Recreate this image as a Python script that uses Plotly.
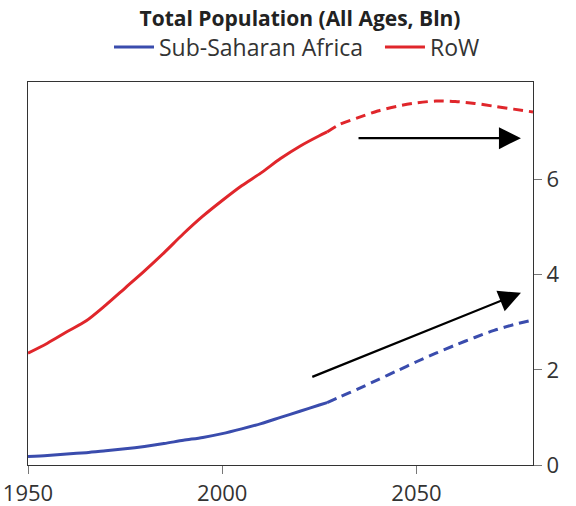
import plotly.graph_objects as go

# ---- data (billions) ----
years_hist = [1950, 1955, 1960, 1965, 1970, 1975, 1980, 1985, 1990, 1995,
              2000, 2005, 2010, 2015, 2020, 2025, 2027]
years_proj = [2027, 2030, 2035, 2040, 2045, 2050, 2055, 2060, 2065, 2070, 2075, 2080]

ssa_hist = [0.18, 0.20, 0.23, 0.26, 0.30, 0.34, 0.39, 0.45, 0.52, 0.58,
            0.66, 0.76, 0.87, 1.00, 1.13, 1.26, 1.31]
ssa_proj = [1.31, 1.42, 1.60, 1.79, 1.98, 2.17, 2.35, 2.52, 2.68, 2.83, 2.95, 3.05]

row_hist = [2.35, 2.56, 2.80, 3.03, 3.36, 3.72, 4.08, 4.46, 4.86, 5.23,
            5.56, 5.87, 6.14, 6.44, 6.70, 6.92, 7.00]
row_proj = [7.00, 7.15, 7.30, 7.44, 7.54, 7.61, 7.65, 7.64, 7.60, 7.54, 7.48, 7.42]

# arrows: (tail_x, tail_y, head_x, head_y)
arrow_row = (2034.7, 6.87, 2076.9, 6.87)
arrow_ssa = (2022.8, 1.84, 2076.9, 3.62)

x_ticks = [1950, 2000, 2050]
y_ticks = [0, 2, 4, 6]

BLUE = "#3a4cad"
RED = "#e0262b"
FONT = "Open Sans"

fig = go.Figure()
fig.add_trace(go.Scatter(x=years_hist, y=ssa_hist, mode="lines",
                         name="Sub-Saharan Africa\u00a0\u00a0",
                         line=dict(color=BLUE, width=3, shape="spline", smoothing=0.8),
                         legendgroup="ssa"))
fig.add_trace(go.Scatter(x=years_proj, y=ssa_proj, mode="lines", showlegend=False,
                         line=dict(color=BLUE, width=3, dash="10px,6px", shape="spline",
                                   smoothing=0.8), legendgroup="ssa"))
fig.add_trace(go.Scatter(x=years_hist, y=row_hist, mode="lines", name="RoW",
                         line=dict(color=RED, width=3, shape="spline", smoothing=0.8),
                         legendgroup="row"))
fig.add_trace(go.Scatter(x=years_proj, y=row_proj, mode="lines", showlegend=False,
                         line=dict(color=RED, width=3, dash="10px,6px", shape="spline",
                                   smoothing=0.8), legendgroup="row"))

for (tx, ty, hx, hy) in [arrow_row, arrow_ssa]:
    fig.add_annotation(x=hx, y=hy, ax=tx, ay=ty, xref="x", yref="y", axref="x", ayref="y",
                       text="", showarrow=True, arrowhead=2, arrowsize=2.0, arrowwidth=2.2,
                       arrowcolor="black", standoff=0)

fig.update_layout(
    width=576, height=506,
    margin=dict(l=28, r=43, t=82, b=41, autoexpand=False),
    paper_bgcolor="white", plot_bgcolor="white",
    font=dict(family=FONT, color="#222222"),
    title=dict(text="<b>Total Population (All Ages, Bln)</b>", x=300 / 576, xanchor="center",
               y=1 - 19 / 506, yanchor="middle", yref="container",
               font=dict(size=21, family=FONT, color="#222222")),
    legend=dict(orientation="h", x=(297 - 28) / 505, xanchor="center", y=1.091,
                yanchor="middle",
                font=dict(size=23, family=FONT, color="#333333"), itemwidth=40,
                bgcolor="rgba(0,0,0,0)"),
    xaxis=dict(range=[1950, 2080], tickvals=x_ticks, ticks="outside", ticklen=8,
               tickcolor="#777777", showgrid=False, zeroline=False, showline=True,
               linecolor="#333333", linewidth=1.2, mirror=True, automargin=False,
               tickfont=dict(size=22, family=FONT, color="#333333")),
    yaxis=dict(range=[0, 8.05], tickvals=y_ticks, side="right", ticks="outside", ticklen=8,
               tickcolor="#777777", showgrid=False, zeroline=False, showline=True,
               linecolor="#333333", linewidth=1.2, mirror=True, automargin=False,
               tickfont=dict(size=22, family=FONT, color="#333333")),
)

fig.write_html("out.html", config={"displayModeBar": False},
               post_script="document.body.style.margin='0';document.body.style.overflow='hidden';")
